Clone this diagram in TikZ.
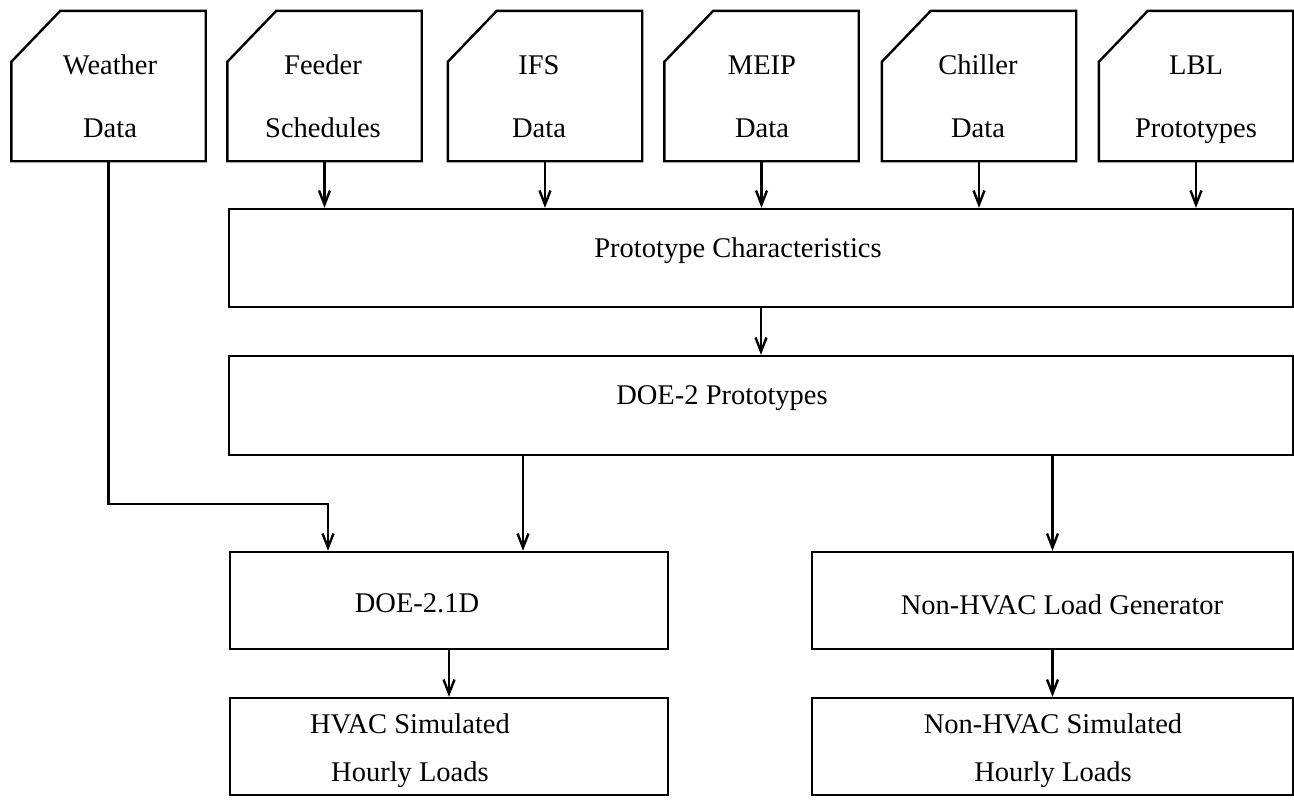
\documentclass[tikz,border=0pt]{standalone}
\usepackage{fontspec}
\setmainfont{Liberation Serif}
\usetikzlibrary{arrows.meta}
\tikzset{
  card/.style={draw=none, minimum width=194pt, minimum height=150pt, inner sep=0pt},
  box/.style={draw, line width=2.4pt, inner sep=0pt},
  lbl/.style={inner sep=0pt, align=center, font=\fontsize{28.5}{34}\selectfont},
  cardlbl/.style={inner sep=0pt, align=center, font=\fontsize{28.5}{63}\selectfont},
  twolbl/.style={inner sep=0pt, align=center, font=\fontsize{28.5}{48}\selectfont},
  arr/.style={line width=2.2pt, -{Straight Barb[length=14pt,width=11pt,line width=2.4pt]}},
  edge/.style={line width=2.4pt, line join=miter}
}
\newcommand{\cardoutline}[1]{%
  \draw[edge] ([yshift=-51pt]#1.north west) -- ([xshift=49pt]#1.north west) -- (#1.north east) -- (#1.south east) -- (#1.south west) -- cycle;}
\begin{document}
\begin{tikzpicture}[x=1pt, y=-1pt]
\useasboundingbox (0,0) rectangle (1294,801);
% cards
\node[card] (weather) at (108.5,86) {};
\node[card] (feeder)  at (324.5,86) {};
\node[card] (ifs)     at (545,86) {};
\node[card] (meip)    at (761.5,86) {};
\node[card] (chiller) at (979,86) {};
\node[card] (lblp)    at (1196,86) {};
\cardoutline{weather}
\cardoutline{feeder}
\cardoutline{ifs}
\cardoutline{meip}
\cardoutline{chiller}
\cardoutline{lblp}
\node[cardlbl] (tweather) at (110,96) {Weather\\Data};
\node[cardlbl] (tfeeder)  at (323,96) {Feeder\\Schedules};
\node[cardlbl] (tifs)     at (539,97) {IFS\\Data};
\node[cardlbl] (tmeip)    at (762,97) {MEIP\\Data};
\node[cardlbl] (tchiller) at (978,96) {Chiller\\Data};
\node[cardlbl] (tlblp)    at (1196,100) {LBL\\Prototypes};
% boxes
\node[box, minimum width=1064pt, minimum height=98pt] (pc)   at (761,258) {};
\node[box, minimum width=1064pt, minimum height=99pt] (doe2) at (761,405.5) {};
\node[box, minimum width=438pt, minimum height=97pt] (doe21d) at (449,600.5) {};
\node[box, minimum width=481pt, minimum height=97pt] (nhgen)  at (1052.5,600.5) {};
\node[box, minimum width=438pt, minimum height=97pt] (hvacsim) at (449,746.5) {};
\node[box, minimum width=481pt, minimum height=97pt] (nhsim)   at (1052.5,746.5) {};
\node[lbl] (tpc)    at (738,251) {Prototype Characteristics};
\node[lbl] (tdoe2)  at (722,398) {DOE-2 Prototypes};
\node[lbl] (tdoe21d) at (417,603) {DOE-2.1D};
\node[lbl] (tnhgen) at (1062,605) {Non-HVAC Load Generator};
\node[twolbl] (thvacsim) at (410,751) {HVAC Simulated\\Hourly Loads};
\node[twolbl] (tnhsim)   at (1053,751) {Non-HVAC Simulated\\Hourly Loads};
% connectors
\draw[arr] (feeder.south) -- (feeder.south |- pc.north);
\draw[arr] (ifs.south) -- (ifs.south |- pc.north);
\draw[arr] (meip.south) -- (meip.south |- pc.north);
\draw[arr] (chiller.south) -- (chiller.south |- pc.north);
\draw[arr] (lblp.south) -- (lblp.south |- pc.north);
\draw[arr] (pc.south) -- (pc.south |- doe2.north);
\coordinate (xa) at (523,0);
\coordinate (bend) at (328,504);
\draw[arr] (doe2.south -| xa) -- (doe21d.north -| xa);
\draw[arr] (doe2.south -| nhgen.north) -- (nhgen.north);
\draw[arr] (weather.south) |- (bend) -- (doe21d.north -| bend);
\draw[arr] (doe21d.south) -- (hvacsim.north);
\draw[arr] (nhgen.south) -- (nhsim.north);
\end{tikzpicture}
\end{document}
